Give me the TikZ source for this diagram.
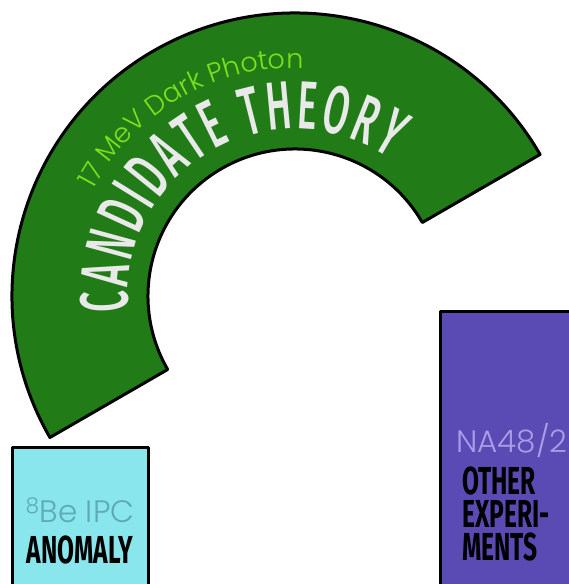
\documentclass[tikz,border=0pt]{standalone}
\usepackage{fontspec}
\usetikzlibrary{decorations.text}
\newfontfamily\condfont{Fira Sans}[FakeStretch=0.63]
\newfontfamily\arcfont{Fira Sans}[UprightFont=* Medium, FakeStretch=0.55]
\newfontfamily\thinfont{Poppins}[UprightFont=* Light]
\definecolor{theorygreen}{HTML}{217C18}
\definecolor{photonlime}{HTML}{7DE01C}
\definecolor{theorywhite}{HTML}{E9E9E9}
\definecolor{anomalycyan}{HTML}{88E6EC}
\definecolor{anomalygrey}{HTML}{5FA9B3}
\definecolor{exppurple}{HTML}{5A4AB3}
\definecolor{explavender}{HTML}{A99DEA}
\begin{document}
\begin{tikzpicture}[x=1pt, y=1pt,
  outline/.style={draw=black, line width=3pt, line join=round},
  black label/.style={font=\condfont\bfseries\fontsize{39}{33}\selectfont, text=black, inner sep=0pt},
  thin label/.style={font=\thinfont\fontsize{31}{30}\selectfont, inner sep=0pt}]
\useasboundingbox (0,0) rectangle (569,584);
\clip (0,0) rectangle (569,584);
\coordinate (c) at (295,288);
% half ring
\draw[outline, fill=theorygreen] ([shift={(30:283)}]c) arc[start angle=30, end angle=210, radius=283]
  -- ([shift={(210:147)}]c) arc[start angle=210, end angle=30, radius=147] -- cycle;
% curved titles
\path[decorate, decoration={text along path, text align=center,
  text={|\arcfont\fontsize{68}{68}\selectfont\color{theorywhite}\kern3pt|CANDIDATE THEORY}}]
  ([shift={(202:167)}]c) arc[start angle=202, end angle=40, radius=167];
\path[decorate, decoration={text along path, text align=center,
  text={|\thinfont\fontsize{27}{27}\selectfont\color{photonlime}|17 MeV Dark Photon}}]
  ([shift={(170:228)}]c) arc[start angle=170, end angle=70, radius=228];
% anomaly box
\draw[outline, fill=anomalycyan] (12,-10) rectangle (148,136);
\node[thin label, text=anomalygrey] (be) at (80,74) {\textsuperscript{8}Be IPC};
\node[black label] (anomaly) at (80,34) {ANOMALY};
% experiments box
\draw[outline, fill=exppurple] (440,-10) rectangle (600,272);
\node[thin label, text=explavender, anchor=west] (na) at (456,143) {NA48/2};
\node[black label, align=left, anchor=north west] (other) at (462,117) {OTHER\\EXPERI-\\MENTS};
\end{tikzpicture}
\end{document}
